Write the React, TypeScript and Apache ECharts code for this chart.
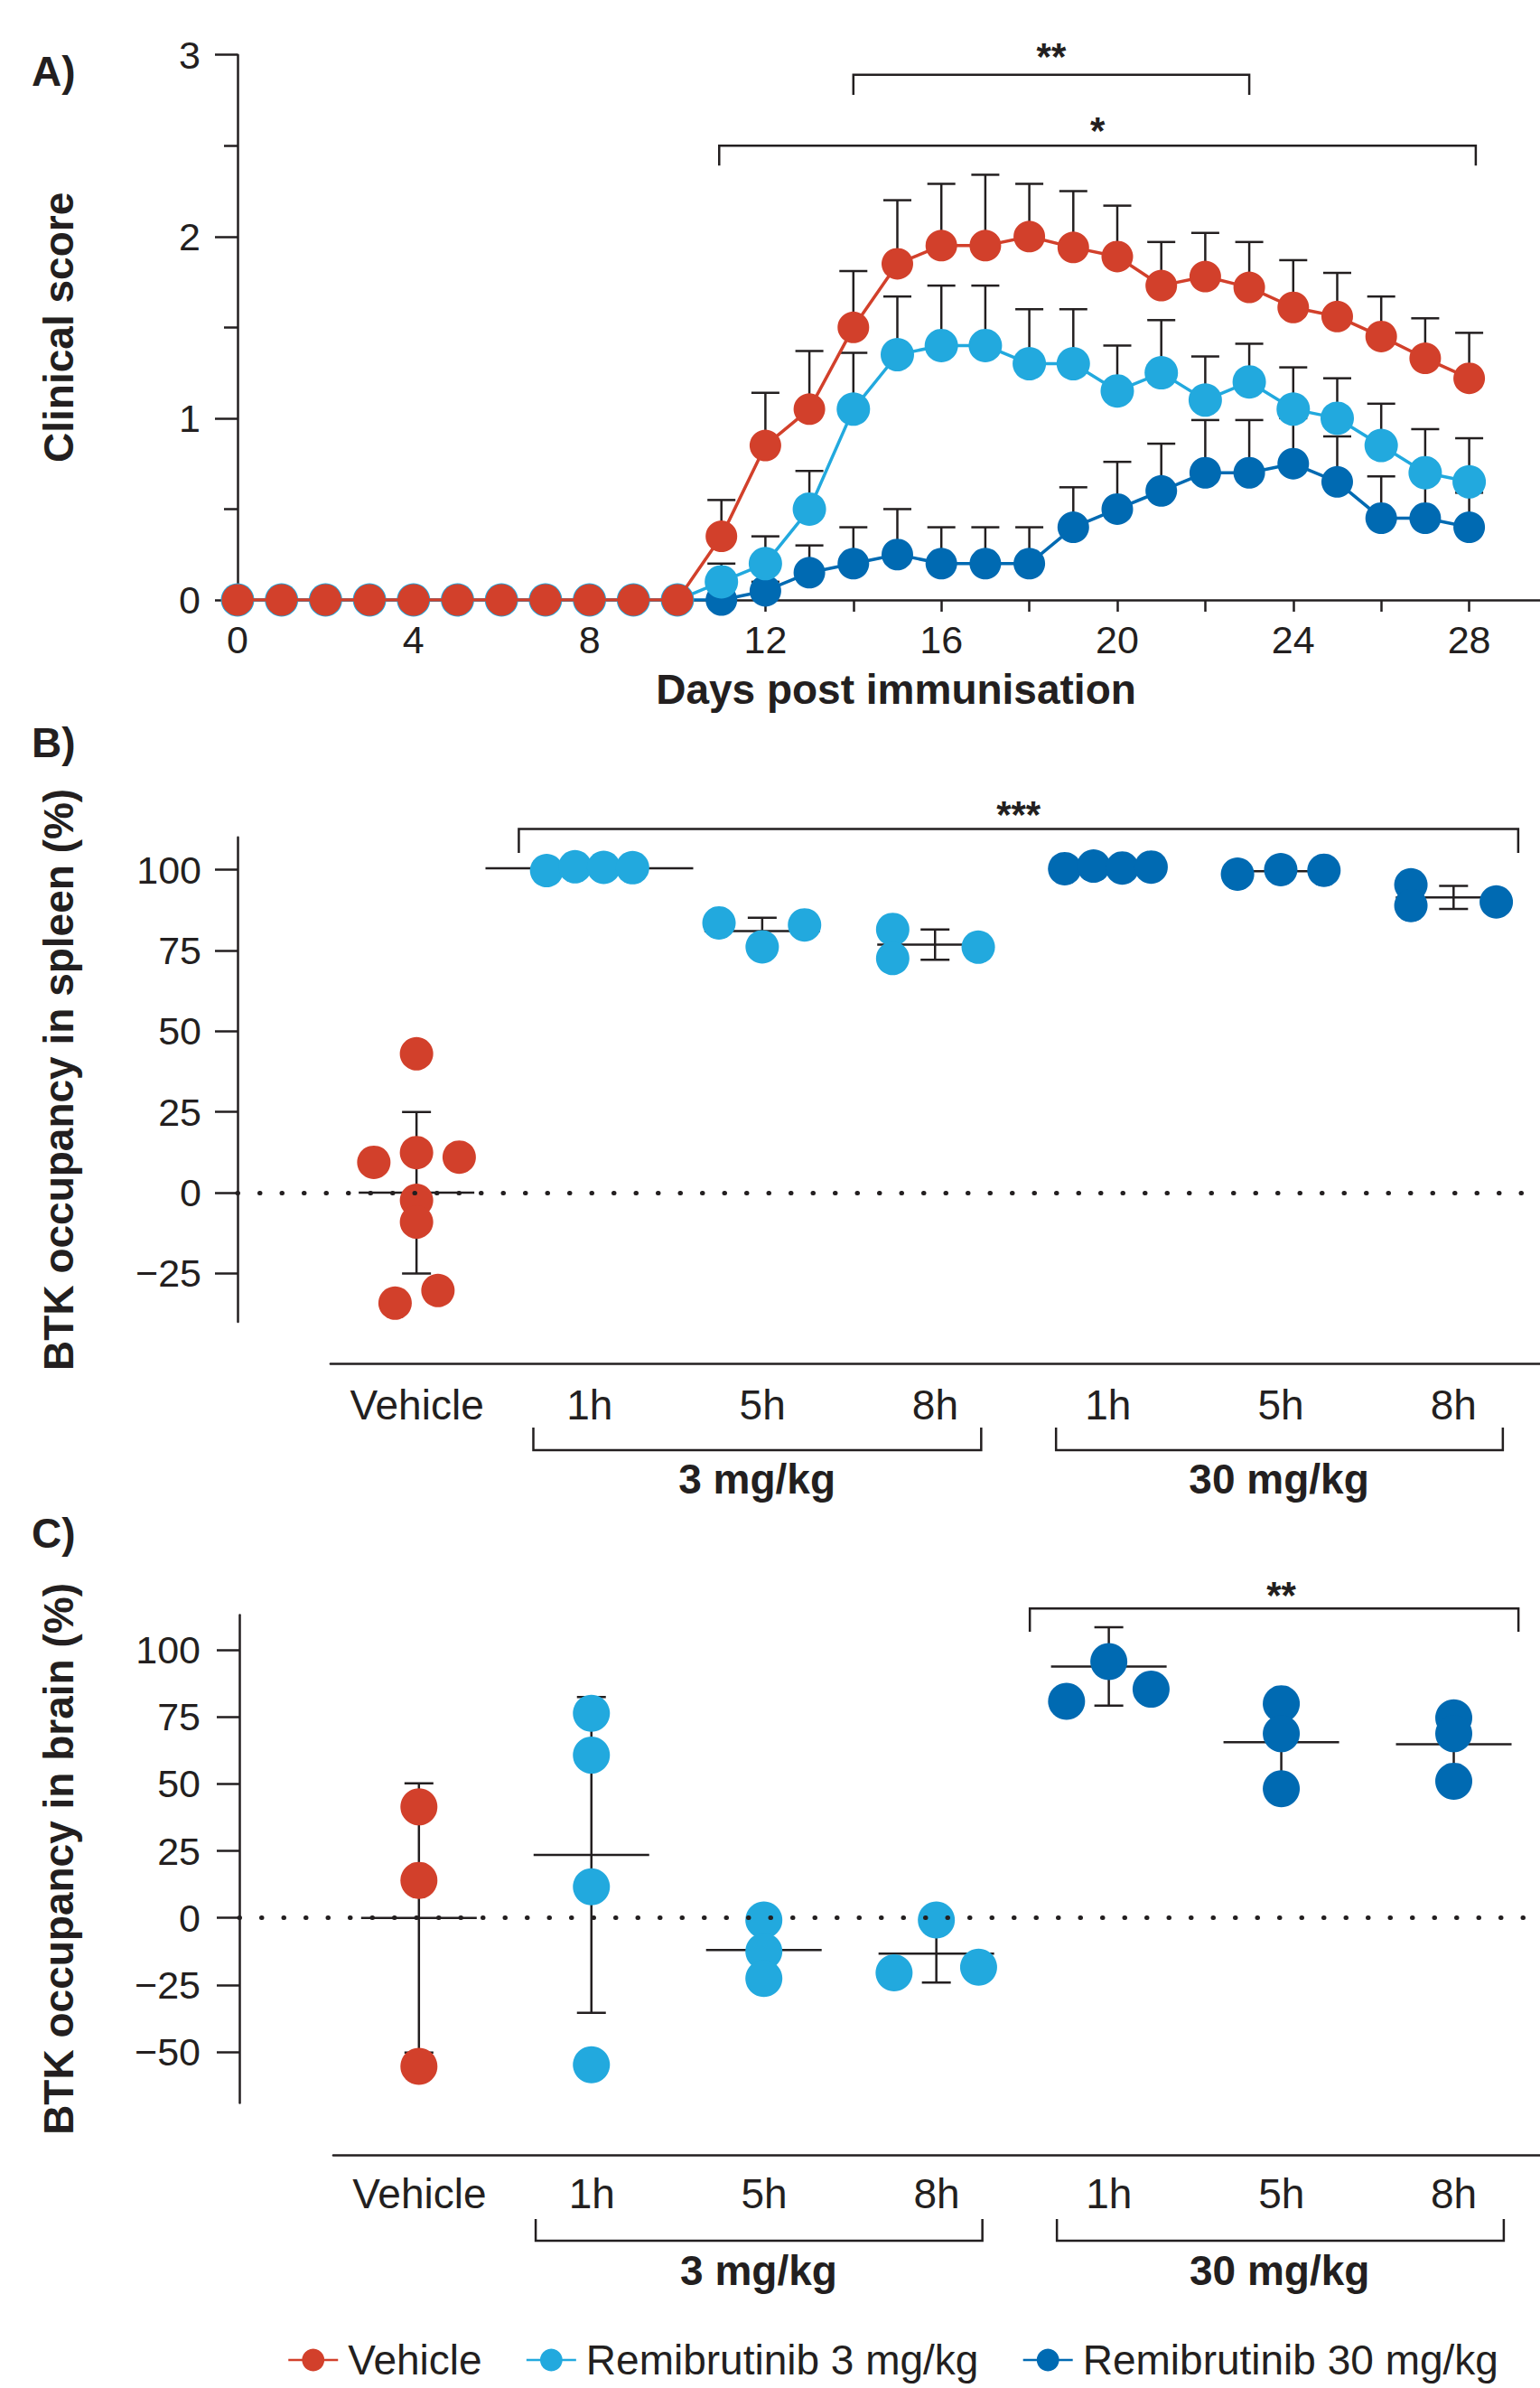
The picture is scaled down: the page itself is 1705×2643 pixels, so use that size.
import React, { useEffect, useRef } from 'react';
import * as echarts from 'echarts';

// ---------------- Panel A: clinical score ----------------
const days = [0, 1, 2, 3, 4, 5, 6, 7, 8, 9, 10, 11, 12, 13, 14, 15, 16, 17, 18, 19, 20, 21, 22, 23, 24, 25, 26, 27, 28];
const dayTicks = [0, 2, 4, 6, 8, 10, 12, 14, 16, 18, 20, 22, 24, 26, 28];
const dayLabels = [0, 4, 8, 12, 16, 20, 24, 28];

const vehicleScore = [0, 0, 0, 0, 0, 0, 0, 0, 0, 0, 0, 0.35, 0.85, 1.05, 1.5, 1.85, 1.95, 1.95, 2.0, 1.94, 1.89, 1.73, 1.78, 1.72, 1.61, 1.56, 1.45, 1.33, 1.22];
const vehicleSem = [0, 0, 0, 0, 0, 0, 0, 0, 0, 0, 0, 0.2, 0.29, 0.32, 0.31, 0.35, 0.34, 0.39, 0.29, 0.31, 0.28, 0.24, 0.24, 0.25, 0.26, 0.24, 0.22, 0.22, 0.25];
const remi3Score = [0, 0, 0, 0, 0, 0, 0, 0, 0, 0, 0, 0.1, 0.2, 0.5, 1.05, 1.35, 1.4, 1.4, 1.3, 1.3, 1.15, 1.25, 1.1, 1.2, 1.05, 1.0, 0.85, 0.7, 0.65];
const remi3Sem = [0, 0, 0, 0, 0, 0, 0, 0, 0, 0, 0, 0.1, 0.15, 0.21, 0.31, 0.32, 0.33, 0.33, 0.3, 0.3, 0.25, 0.29, 0.24, 0.21, 0.23, 0.22, 0.23, 0.24, 0.24];
const remi30Score = [0, 0, 0, 0, 0, 0, 0, 0, 0, 0, 0, 0, 0.05, 0.15, 0.2, 0.25, 0.2, 0.2, 0.2, 0.4, 0.5, 0.6, 0.7, 0.7, 0.75, 0.65, 0.45, 0.45, 0.4];
const remi30Sem = [0, 0, 0, 0, 0, 0, 0, 0, 0, 0, 0, 0, 0.05, 0.15, 0.2, 0.25, 0.2, 0.2, 0.2, 0.22, 0.26, 0.26, 0.29, 0.29, 0.25, 0.25, 0.23, 0.22, 0.19];

// significance brackets A: [from, to, level, tickEnd]
const sigBracketsA = [[14, 23, 2.89, 2.78], [10.95, 28.15, 2.5, 2.39]];
const sigLabelsA = ['**', '*'];
const sigLabelPosA = [[18.5, 2.99], [19.55, 2.583]];

// ---------------- Panel B / C categories ----------------
const groupLabels = ['Vehicle', '1h', '5h', '8h', '1h', '5h', '8h'];
const doseLabels = ['3 mg/kg', '30 mg/kg'];
const seriesNames = ['Vehicle', 'Remibrutinib 3 mg/kg', 'Remibrutinib 30 mg/kg'];

// ---------------- Panel B: spleen occupancy ----------------
const spleenVehicle = [43.0, 9.4, 12.4, 11.0, -2.4, -9.1, -34.2, -30.3];
const spleen3mg1h = [99.7, 100.9, 100.7, 100.6];
const spleen3mg5h = [83.5, 76.1, 82.9];
const spleen3mg8h = [81.5, 72.5, 76.0];
const spleen30mg1h = [100.3, 101.1, 100.5, 100.8];
const spleen30mg5h = [98.6, 100.0, 99.8];
const spleen30mg8h = [95.3, 88.9, 90.0];
const spleenMean = [0, 100.4, 81.0, 76.8, 100.7, 99.5, 91.4];
const spleenSD = [25, 0.5, 4.1, 4.7, 0.4, 0.8, 3.6];
const spleenTicks = [-25, 0, 25, 50, 75, 100];

// ---------------- Panel C: brain occupancy ----------------
const brainVehicle = [41.4, 14.0, -55.4];
const brain3mg1h = [76.3, 60.7, 11.6, -54.8];
const brain3mg5h = [-0.8, -12.5, -22.6];
const brain3mg8h = [-20.5, -0.8, -18.4];
const brain30mg1h = [80.8, 95.6, 85.3];
const brain30mg5h = [79.9, 68.7, 48.2];
const brain30mg8h = [74.6, 68.7, 51.0];
const brainMean = [0, 23.5, -12.0, -13.3, 93.8, 65.5, 64.8];
const brainSD = [50.2, 58.9, 10.9, 10.8, 14.6, 16.1, 12.3];
const brainTicks = [-50, -25, 0, 25, 50, 75, 100];

// ---------------- layout / style ----------------
const FONT = '"Liberation Sans", Arial, Helvetica, sans-serif';
const INK = '#231F20';
const RED = '#D2402B';
const LIGHT = '#22A9DE';
const DARK = '#006AB2';

// swarm offsets (in category units) for points of each group
const spleenOffsets = [
  [0, -0.247, 0, 0.247, 0, 0, -0.124, 0.124],
  [-0.247, -0.083, 0.083, 0.25],
  [-0.25, 0, 0.245],
  [-0.245, -0.245, 0.25],
  [-0.25, -0.083, 0.083, 0.25],
  [-0.25, 0, 0.25],
  [-0.247, -0.247, 0.247],
];
const brainOffsets = [
  [0, 0, 0],
  [0, 0, 0, 0],
  [0, 0, 0],
  [-0.245, 0, 0.245],
  [-0.245, 0, 0.245],
  [0, 0, 0],
  [0, 0, 0],
];
const spleenMeanHalfPx = [64, 115, 64, 64, 64, 64, 64];
const brainMeanHalfPx = [64, 64, 64, 64, 64, 64, 64];

// Panel geometry
const A = { left: 263, top: 60.7, width: 1442, height: 603.3, xMax: 29.61 };
const B = { axisX: 263, c0: 462, cat: 192.2, zeroY: 1320, ppu: 3.575, yMin: -40, yMax: 110, xAxisY: 1509.5 };
const C = { axisX: 265, c0: 465, cat: 192.1, zeroY: 2122.7, ppu: 2.967, yMin: -69, yMax: 113, xAxisY: 2385 };

const minusFmt = (v: number) => (v < 0 ? '\u2212' + Math.abs(v) : String(v));

function lineEl(x1: number, y1: number, x2: number, y2: number, w = 2.5) {
  return { type: 'line', shape: { x1, y1, x2, y2 }, style: { stroke: INK, lineWidth: w } };
}

function errorBarSeries(means: number[], sems: number[]) {
  return {
    type: 'custom',
    xAxisIndex: 0,
    yAxisIndex: 0,
    z: 1,
    silent: true,
    clip: false,
    data: days.map((d, i) => [d, means[i], sems[i]]),
    renderItem: (params: any, api: any) => {
      const x = api.value(0);
      const m = api.value(1);
      const e = api.value(2);
      if (!(e > 0)) return null;
      const p0 = api.coord([x, m]);
      const p1 = api.coord([x, m + e]);
      return {
        type: 'group',
        children: [lineEl(p0[0], p0[1], p1[0], p1[1]), lineEl(p1[0] - 15.5, p1[1], p1[0] + 15.5, p1[1])],
      };
    },
  };
}

function bracketSeries(xi: number, yi: number, brackets: number[][], z = 5) {
  return {
    type: 'custom',
    xAxisIndex: xi,
    yAxisIndex: yi,
    z,
    silent: true,
    clip: false,
    data: brackets,
    renderItem: (params: any, api: any) => {
      const x1 = api.value(0);
      const x2 = api.value(1);
      const lv = api.value(2);
      const end = api.value(3);
      const pts = [api.coord([x1, end]), api.coord([x1, lv]), api.coord([x2, lv]), api.coord([x2, end])];
      return { type: 'polyline', shape: { points: pts }, style: { stroke: INK, lineWidth: 2.5, fill: null } };
    },
  };
}

function textSeries(xi: number, yi: number, pos: number[][], texts: string[], size: number) {
  return {
    type: 'custom',
    xAxisIndex: xi,
    yAxisIndex: yi,
    z: 6,
    silent: true,
    clip: false,
    data: pos,
    renderItem: (params: any, api: any) => {
      const p = api.coord([api.value(0), api.value(1)]);
      return {
        type: 'text',
        x: p[0],
        y: p[1],
        style: {
          text: texts[params.dataIndex],
          fill: INK,
          fontFamily: FONT,
          fontSize: size,
          fontWeight: 'bold',
          align: 'center',
          verticalAlign: 'middle',
        },
      };
    },
  };
}

function summarySeries(xi: number, yi: number, means: number[], sds: number[], halfPx: number[]) {
  return {
    type: 'custom',
    xAxisIndex: xi,
    yAxisIndex: yi,
    z: 2,
    silent: true,
    clip: false,
    data: means.map((m, i) => [i, m, sds[i]]),
    renderItem: (params: any, api: any) => {
      const g = api.value(0);
      const m = api.value(1);
      const s = api.value(2);
      const pm = api.coord([g, m]);
      const ph = api.coord([g, m + s]);
      const pl = api.coord([g, m - s]);
      const hw = halfPx[params.dataIndex];
      return {
        type: 'group',
        children: [
          lineEl(pm[0] - hw, pm[1], pm[0] + hw, pm[1]),
          lineEl(ph[0], ph[1], pl[0], pl[1]),
          lineEl(ph[0] - 16, ph[1], ph[0] + 16, ph[1]),
          lineEl(pl[0] - 16, pl[1], pl[0] + 16, pl[1]),
        ],
      };
    },
  };
}

function pointsFor(groups: number[][], offsets: number[][], idx: number[]) {
  const out: number[][] = [];
  idx.forEach((g) => {
    groups[g].forEach((v, j) => out.push([g + offsets[g][j], v]));
  });
  return out;
}

function scatter(xi: number, yi: number, name: string, color: string, data: number[][], size: number) {
  return {
    type: 'scatter',
    name,
    xAxisIndex: xi,
    yAxisIndex: yi,
    z: 4,
    silent: true,
    symbol: 'circle',
    symbolSize: size,
    itemStyle: { color, opacity: 1 },
    emphasis: { disabled: true },
    data,
  };
}

function zeroLine(xi: number, yi: number) {
  return {
    type: 'scatter',
    name: '_zero' + xi,
    xAxisIndex: xi,
    yAxisIndex: yi,
    z: 3,
    silent: true,
    data: [],
    markLine: {
      silent: true,
      symbol: 'none',
      label: { show: false },
      lineStyle: { color: INK, width: 5, type: [0.5, 24], cap: 'round' },
      data: [{ yAxis: 0 }],
    },
  };
}

const tickLine = { lineStyle: { color: INK, width: 2.5 } };
const numLabel = { fontFamily: FONT, fontSize: 43, color: INK };
const catLabel = { fontFamily: FONT, fontSize: 46, color: INK };
const titleStyle = { fontFamily: FONT, fontSize: 46, fontWeight: 'bold', color: INK };

function buildOption(): any {
  const spleenGroups = [spleenVehicle, spleen3mg1h, spleen3mg5h, spleen3mg8h, spleen30mg1h, spleen30mg5h, spleen30mg8h];
  const brainGroups = [brainVehicle, brain3mg1h, brain3mg5h, brain3mg8h, brain30mg1h, brain30mg5h, brain30mg8h];

  const bTop = B.zeroY - B.yMax * B.ppu;
  const bH = (B.yMax - B.yMin) * B.ppu;
  const cTop = C.zeroY - C.yMax * C.ppu;
  const cH = (C.yMax - C.yMin) * C.ppu;

  const grids = [
    { left: A.left, top: A.top, width: A.width, height: A.height },
    { left: B.axisX, top: bTop, width: B.c0 + 6.5 * B.cat - B.axisX, height: bH },
    { left: B.c0 - 0.5 * B.cat, top: B.xAxisY - 1, width: 7 * B.cat, height: 1 },
    { left: C.axisX, top: cTop, width: C.c0 + 6.5 * C.cat - C.axisX, height: cH },
    { left: C.c0 - 0.5 * C.cat, top: C.xAxisY - 1, width: 7 * C.cat, height: 1 },
  ];

  const catAxis = (gi: number, margin: number) => ({
    type: 'category',
    gridIndex: gi,
    data: groupLabels,
    boundaryGap: true,
    axisLine: tickLine,
    axisTick: { alignWithLabel: true, length: 16, ...tickLine },
    axisLabel: { ...catLabel, margin, interval: 0 },
    splitLine: { show: false },
  });

  const xAxes = [
    {
      type: 'value',
      gridIndex: 0,
      min: 0,
      max: A.xMax,
      axisLine: { onZero: false, ...tickLine },
      axisTick: { customValues: dayTicks, length: 13, ...tickLine },
      axisLabel: { customValues: dayLabels, ...numLabel, margin: 22 },
      splitLine: { show: false },
      name: 'Days post immunisation',
      nameLocation: 'middle',
      nameGap: 76,
      nameTextStyle: { ...titleStyle, padding: [0, 0, 0, 16] },
    },
    { type: 'value', gridIndex: 1, min: -(B.c0 - B.axisX) / B.cat, max: 6.5, show: false },
    catAxis(2, 22),
    { type: 'value', gridIndex: 3, min: -(C.c0 - C.axisX) / C.cat, max: 6.5, show: false },
    catAxis(4, 20),
  ];

  const yAxes = [
    {
      type: 'value',
      gridIndex: 0,
      min: 0,
      max: 3,
      interval: 1,
      axisLine: { show: true, onZero: false, ...tickLine },
      axisTick: { length: 25, ...tickLine },
      minorTick: { show: true, splitNumber: 2, length: 15, ...tickLine },
      axisLabel: { ...numLabel, margin: 41 },
      splitLine: { show: false },
      minorSplitLine: { show: false },
      name: 'Clinical score',
      nameLocation: 'middle',
      nameGap: 175,
      nameTextStyle: titleStyle,
    },
    {
      type: 'value',
      gridIndex: 1,
      min: B.yMin,
      max: B.yMax,
      axisLine: { show: true, onZero: false, ...tickLine },
      axisTick: { customValues: spleenTicks, length: 25, ...tickLine },
      axisLabel: { customValues: spleenTicks, ...numLabel, margin: 40, formatter: minusFmt },
      splitLine: { show: false },
      name: 'BTK occupancy in spleen (%)',
      nameLocation: 'middle',
      nameGap: 175,
      nameTextStyle: titleStyle,
    },
    { type: 'value', gridIndex: 2, min: 0, max: 1, show: false },
    {
      type: 'value',
      gridIndex: 3,
      min: C.yMin,
      max: C.yMax,
      axisLine: { show: true, onZero: false, ...tickLine },
      axisTick: { customValues: brainTicks, length: 25, ...tickLine },
      axisLabel: { customValues: brainTicks, ...numLabel, margin: 43, formatter: minusFmt },
      splitLine: { show: false },
      name: 'BTK occupancy in brain (%)',
      nameLocation: 'middle',
      nameGap: 177,
      nameTextStyle: titleStyle,
    },
    { type: 'value', gridIndex: 4, min: 0, max: 1, show: false },
  ];

  const lineSeries = (name: string, color: string, vals: number[], size: number, z: number) => ({
    type: 'line',
    name,
    xAxisIndex: 0,
    yAxisIndex: 0,
    z,
    silent: true,
    symbol: 'circle',
    symbolSize: size,
    showSymbol: true,
    lineStyle: { color, width: 3.5 },
    itemStyle: { color, opacity: 1 },
    emphasis: { disabled: true },
    data: days.map((d, i) => [d, vals[i]]),
  });

  // category bracket positions (category units) and label positions
  const doseBracketsB = [[0.676, 3.267, -79.7, -72.7], [3.7, 6.285, -79.7, -72.7]];
  const doseLabelPosB = [[1.97, -88.6], [4.99, -88.6]];
  const doseBracketsC = [[0.677, 3.267, -120.4, -112.3], [3.699, 6.29, -120.4, -112.3]];
  const doseLabelPosC = [[1.97, -131.4], [4.99, -131.4]];

  const series: any[] = [
    // Panel A
    errorBarSeries(remi30Score, remi30Sem),
    errorBarSeries(remi3Score, remi3Sem),
    errorBarSeries(vehicleScore, vehicleSem),
    lineSeries(seriesNames[2], DARK, remi30Score, 35, 2),
    lineSeries(seriesNames[1], LIGHT, remi3Score, 37, 3),
    lineSeries(seriesNames[0], RED, vehicleScore, 35, 4),
    bracketSeries(0, 0, sigBracketsA),
    textSeries(0, 0, sigLabelPosA, sigLabelsA, 42),

    // Panel B
    summarySeries(1, 1, spleenMean, spleenSD, spleenMeanHalfPx),
    zeroLine(1, 1),
    scatter(1, 1, 'B Vehicle', RED, pointsFor(spleenGroups, spleenOffsets, [0]), 37),
    scatter(1, 1, 'B 3 mg/kg', LIGHT, pointsFor(spleenGroups, spleenOffsets, [1, 2, 3]), 37),
    scatter(1, 1, 'B 30 mg/kg', DARK, pointsFor(spleenGroups, spleenOffsets, [4, 5, 6]), 37),
    bracketSeries(1, 1, [[0.592, 6.374, 112.6, 105.2]]),
    textSeries(1, 1, [[3.483, 117.0]], ['***'], 42),
    bracketSeries(1, 1, doseBracketsB),
    textSeries(1, 1, doseLabelPosB, doseLabels, 46),

    // Panel C
    summarySeries(3, 3, brainMean, brainSD, brainMeanHalfPx),
    zeroLine(3, 3),
    scatter(3, 3, 'C Vehicle', RED, pointsFor(brainGroups, brainOffsets, [0]), 41),
    scatter(3, 3, 'C 3 mg/kg', LIGHT, pointsFor(brainGroups, brainOffsets, [1, 2, 3]), 41),
    scatter(3, 3, 'C 30 mg/kg', DARK, pointsFor(brainGroups, brainOffsets, [4, 5, 6]), 41),
    bracketSeries(3, 3, [[3.542, 6.375, 115.4, 106.7]]),
    textSeries(3, 3, [[5.0, 120.4]], ['**'], 42),
    bracketSeries(3, 3, doseBracketsC),
    textSeries(3, 3, doseLabelPosC, doseLabels, 46),
  ];

  const panelLetter = (text: string, y: number) => ({
    type: 'text',
    x: 35,
    y,
    style: { text, fill: INK, fontFamily: FONT, fontSize: 46, fontWeight: 'bold', align: 'left', verticalAlign: 'middle' },
  });

  return {
    animation: false,
    backgroundColor: '#ffffff',
    textStyle: { fontFamily: FONT },
    grid: grids,
    xAxis: xAxes,
    yAxis: yAxes,
    legend: {
      data: seriesNames,
      left: 318,
      top: 2588,
      orient: 'horizontal',
      padding: 0,
      itemWidth: 55,
      itemHeight: 31,
      itemGap: 48,
      selectedMode: false,
      lineStyle: { width: 2.5 },
      textStyle: { ...catLabel, lineHeight: 48, padding: [0, 0, 0, 6] },
    },
    graphic: [panelLetter('A)', 79), panelLetter('B)', 822), panelLetter('C)', 1697)],
    series,
  };
}

export default function App() {
  const ref = useRef<HTMLDivElement>(null);
  useEffect(() => {
    document.body.style.margin = '0';
    const chart = echarts.init(ref.current as HTMLDivElement, null, { renderer: 'svg' });
    chart.setOption(buildOption());
    return () => chart.dispose();
  }, []);
  return (
    <div
      ref={ref}
      style={{ position: 'absolute', left: 0, top: 0, width: 1705, height: 2643, background: '#ffffff' }}
    />
  );
}
